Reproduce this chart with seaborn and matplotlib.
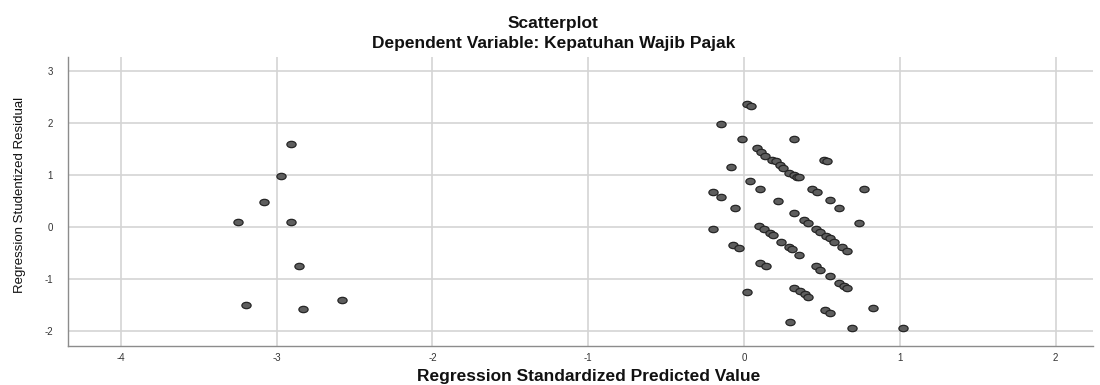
# plot.py
# SPSS-style residual scatterplot: studentized residual vs standardized predicted value

import numpy as np
import pandas as pd
import matplotlib
matplotlib.use("Agg")
import matplotlib.pyplot as plt
from matplotlib.path import Path
import seaborn as sns

# === Data ===
# small group of low predicted values
left_pred = [-2.91, -2.97, -3.08, -3.25, -2.91, -2.86, -3.20, -2.83, -2.58]
left_resid = [1.59, 0.98, 0.48, 0.10, 0.10, -0.76, -1.51, -1.58, -1.41]

# main group around zero
main_pred = [0.017, 0.043, -0.15, -0.01, 0.32, 0.085, 0.107, 0.135, 0.178, 0.206,
             0.231, 0.252, 0.29, 0.32, 0.34, 0.355, 0.515, 0.53, -0.085, 0.04,
             0.10, -0.20, -0.15, -0.06, 0.22, 0.32, 0.435, 0.47, 0.55, 0.61,
             0.77, 0.385, 0.41, 0.74, -0.20, 0.098, 0.13, 0.167, 0.184, 0.24,
             0.29, 0.31, 0.355, -0.07, -0.03, 0.46, 0.49, 0.525, 0.55, 0.58,
             0.63, 0.66, 0.10, 0.14, 0.46, 0.49, 0.55, 0.61, 0.64, 0.66,
             0.02, 0.32, 0.36, 0.39, 0.41, 0.52, 0.55, 0.295, 0.69, 0.83,
             1.02]
main_resid = [2.36, 2.32, 1.99, 1.69, 1.69, 1.51, 1.44, 1.37, 1.29, 1.26,
              1.19, 1.14, 1.04, 1.00, 0.96, 0.96, 1.28, 1.27, 1.15, 0.88,
              0.73, 0.68, 0.57, 0.37, 0.49, 0.26, 0.73, 0.67, 0.51, 0.37,
              0.73, 0.13, 0.08, 0.07, -0.03, 0.025, -0.04, -0.11, -0.15, -0.28,
              -0.38, -0.42, -0.53, -0.35, -0.41, -0.04, -0.09, -0.17, -0.22, -0.28,
              -0.39, -0.47, -0.69, -0.75, -0.76, -0.83, -0.94, -1.08, -1.13, -1.18,
              -1.26, -1.17, -1.24, -1.29, -1.35, -1.60, -1.65, -1.82, -1.95, -1.55,
              -1.95]

x_ticks = [-4, -3, -2, -1, 0, 1, 2]
y_ticks = [-2, -1, 0, 1, 2, 3]

df = pd.DataFrame({
    "pred": left_pred + main_pred,
    "resid": left_resid + main_resid,
})

# === Style ===
sns.set_style("white")
plt.rcParams["font.family"] = ["Liberation Sans", "DejaVu Sans"]
plt.rcParams["axes.unicode_minus"] = False

# slightly flattened circle, like the stretched SPSS export
circ = Path.unit_circle()
ellipse = Path(circ.vertices * np.array([1.45, 1.0]), circ.codes)

fig = plt.figure(figsize=(11, 3.85), dpi=100)
ax = fig.add_axes([0.0618, 0.1013, 0.9318, 0.7507])

sns.scatterplot(x="pred", y="resid", data=df, ax=ax, marker=ellipse, s=44,
                color="#5e5e5e", edgecolor="#262626", linewidth=0.9, zorder=3)

ax.set_xlim(-4.34, 2.24)
ax.set_ylim(-2.29, 3.27)
ax.set_xticks(x_ticks)
ax.set_yticks(y_ticks)
ax.grid(True, color="#d4d4d4", linewidth=1.2)
ax.set_axisbelow(True)

for side in ["top", "right"]:
    ax.spines[side].set_visible(False)
for side in ["left", "bottom"]:
    ax.spines[side].set_color("#8c8c8c")
    ax.spines[side].set_linewidth(1.0)

ax.tick_params(axis="both", length=0, labelsize=7, labelcolor="#333333")
ax.tick_params(axis="y", pad=11)
ax.tick_params(axis="x", pad=5)
ax.set_xlabel("")
ax.set_ylabel("")

# === Titles and axis labels ===
fig.text(0.503, 0.940, "Scatterplot", ha="center", va="center",
         fontsize=12.5, fontweight="bold", color="#111111")
fig.text(0.503, 0.886, "Dependent Variable: Kepatuhan Wajib Pajak", ha="center",
         va="center", fontsize=12.5, fontweight="bold", color="#111111")
fig.text(0.535, 0.022, "Regression Standardized Predicted Value", ha="center",
         va="center", fontsize=12.5, fontweight="bold", color="#111111")
fig.text(0.018, 0.494, "Regression Studentized Residual", ha="center",
         va="center", rotation=90, fontsize=9.5, color="#111111")

fig.savefig("out.png", dpi=100)
